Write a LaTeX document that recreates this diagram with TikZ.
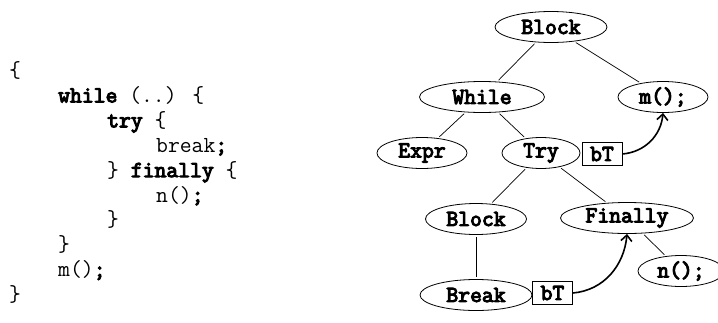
\documentclass[tikz,border=0pt]{standalone}
\usepackage{fontspec}
\usetikzlibrary{shapes.geometric,arrows.meta}
\newfontfamily\codebf{Latin Modern Mono}[FakeBold=4.5]
\newcommand{\codesize}{\fontsize{23}{24.9}\selectfont}
\newcommand{\kw}[1]{{\codebf #1}}
\tikzset{
  codeline/.style={anchor=base west, inner sep=0pt, font=\ttfamily\codesize},
  astnode/.style={ellipse, draw, line width=0.8pt, inner sep=0pt,
    minimum height=31pt, font=\codebf\codesize},
  tagbox/.style={rectangle, draw, line width=0.8pt, inner sep=0pt,
    minimum width=40pt, minimum height=23pt, font=\codebf\codesize},
  treeedge/.style={line width=0.7pt, shorten <=2pt, shorten >=2pt},
  jump/.style={line width=1.6pt, -{Straight Barb[length=6pt,width=11pt,line width=1.6pt]}}
}
\begin{document}
\begin{tikzpicture}[x=1pt,y=-1pt]
\useasboundingbox (0,0) rectangle (718,322);

% source code, one node per line (column width about 12.1pt)
\node[codeline] (c1)  at (9,77.5)  {\{};
\node[codeline] (c2)  at (58,102.4) {\kw{while} (..) \{};
\node[codeline] (c3)  at (107,127.3) {\kw{try} \{};
\node[codeline] (c4)  at (156,152.2) {break\kw{;}};
\node[codeline] (c5)  at (107,177.1) {\} \kw{finally} \{};
\node[codeline] (c6)  at (156,202.0) {n()\kw{;}};
\node[codeline] (c7)  at (107,226.9) {\}};
\node[codeline] (c8)  at (58,251.8) {\}};
\node[codeline] (c9)  at (58,276.7) {m()\kw{;}};
\node[codeline] (c10) at (9,301.6) {\}};

% syntax tree
\node[astnode, minimum width=112pt] (block)   at (551,27)  {Block};
\node[astnode, minimum width=125pt] (while)   at (482,97)  {While};
\node[astnode, minimum width=90pt]  (mcall)   at (663,97)  {m();};
\node[astnode, minimum width=90pt]  (expr)    at (422,153) {Expr};
\node[astnode, minimum width=78pt]  (try)     at (541,153) {Try};
\node[astnode, minimum width=101pt] (tblock)  at (476,219) {Block};
\node[astnode, minimum width=133pt] (finally) at (627,218) {Finally};
\node[astnode, minimum width=86pt]  (ncall)   at (681,271) {n();};
\node[astnode, minimum width=112pt] (brk)     at (476,295) {Break};

% break-target tags
\node[tagbox] (bt1) at (602,154) {bT};
\node[tagbox] (bt2) at (552.5,293) {bT};

\draw[treeedge] (block) -- (while);
\draw[treeedge] (block) -- (mcall);
\draw[treeedge] (while) -- (expr);
\draw[treeedge] (while) -- (try);
\draw[treeedge] (try) -- (tblock);
\draw[treeedge] (try) -- (finally);
\draw[treeedge] (tblock) -- (brk);
\draw[treeedge] (finally) -- (ncall);

\draw[jump] (bt1.east) to[out=5,in=-95] (mcall.south);
\draw[jump] (bt2.east) to[out=5,in=-95] (finally.south);
\end{tikzpicture}
\end{document}
